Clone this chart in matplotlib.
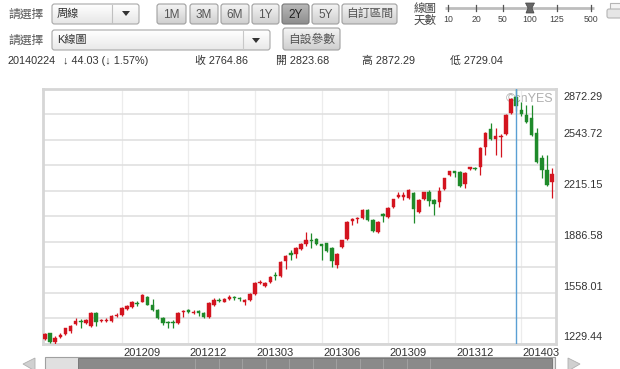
import matplotlib
matplotlib.use('Agg')
import matplotlib.pyplot as plt
from matplotlib.patches import FancyBboxPatch, Polygon, Rectangle
from matplotlib.transforms import blended_transform_factory, ScaledTranslation
import numpy as np
import pandas as pd

plt.rcParams['font.family'] = ['Liberation Sans', 'Noto Sans CJK TC', 'DejaVu Sans']

# ---------------- data ----------------
start_week = '2012-05-21'
opens = [1257, 1296, 1240, 1272, 1289, 1309, 1355, 1375, 1360, 1341,
         1425, 1372, 1376, 1373, 1408, 1412, 1450, 1464, 1492, 1500,
         1530, 1480, 1444, 1395, 1370, 1368, 1362, 1430, 1445, 1428,
         1435, 1425, 1400, 1475, 1512, 1500, 1515, 1530, 1522, 1500,
         1510, 1550, 1620, 1600, 1625, 1672, 1664, 1760, 1810, 1810,
         1840, 1870, 1900, 1905, 1870, 1875, 1845, 1735, 1852, 1903,
         2020, 2030, 2040, 2090, 2026, 1950, 2062, 2045, 2110, 2175,
         2178, 2168, 2200, 2078, 2160, 2207, 2155, 2142, 2226, 2320,
         2340, 2335, 2260, 2360, 2365, 2368, 2498, 2614, 2550, 2560,
         2582, 2718, 2823.68, 2735, 2704, 2685, 2588, 2426, 2349, 2270]
highs = [1296, 1300, 1275, 1300, 1332, 1350, 1393, 1386, 1390, 1432,
         1430, 1390, 1392, 1412, 1425, 1462, 1480, 1502, 1505, 1548,
         1535, 1515, 1450, 1400, 1375, 1380, 1430, 1446, 1450, 1445,
         1445, 1430, 1495, 1525, 1520, 1520, 1545, 1535, 1530, 1518,
         1555, 1625, 1638, 1628, 1665, 1690, 1760, 1800, 1836, 1850,
         1875, 1950, 1940, 1910, 1872, 1880, 1850, 1815, 1900, 2018,
         2040, 2045, 2095, 2095, 2030, 2018, 2075, 2108, 2165, 2210,
         2210, 2228, 2210, 2160, 2210, 2220, 2160, 2240, 2300, 2345,
         2345, 2345, 2335, 2370, 2370, 2495, 2592, 2652, 2620, 2580,
         2710, 2815, 2872.29, 2790, 2770, 2770, 2620, 2446, 2446, 2360]
lows = [1250, 1235, 1229.44, 1262, 1283, 1300, 1350, 1328, 1355, 1335,
        1341, 1365, 1368, 1368, 1400, 1408, 1444, 1458, 1470, 1497,
        1475, 1440, 1388, 1352, 1328, 1328, 1355, 1400, 1425, 1420,
        1410, 1395, 1395, 1470, 1500, 1497, 1510, 1510, 1505, 1480,
        1505, 1545, 1615, 1595, 1618, 1638, 1660, 1710, 1768, 1780,
        1835, 1862, 1845, 1865, 1768, 1820, 1725, 1715, 1845, 1895,
        1995, 2010, 2035, 2020, 1950, 1945, 2015, 2040, 2105, 2170,
        2155, 2160, 2006, 2070, 2155, 2120, 2058, 2110, 2220, 2310,
        2305, 2240, 2230, 2350, 2350, 2317, 2446, 2540, 2446, 2433,
        2575, 2710, 2729.04, 2700, 2650, 2570, 2395, 2297, 2245, 2168]
closes = [1290, 1238, 1268, 1284, 1328, 1340, 1374, 1370, 1380, 1425,
          1367, 1382, 1384, 1406, 1414, 1457, 1470, 1496, 1487, 1540,
          1480, 1444, 1392, 1360, 1360, 1362, 1425, 1438, 1430, 1435,
          1430, 1400, 1490, 1510, 1507, 1515, 1530, 1525, 1516, 1512,
          1550, 1620, 1628, 1620, 1660, 1665, 1755, 1795, 1805, 1845,
          1870, 1897, 1892, 1870, 1862, 1825, 1760, 1810, 1897, 2013,
          2030, 2040, 2090, 2026, 1955, 2013, 2055, 2103, 2160, 2190,
          2190, 2220, 2097, 2155, 2205, 2150, 2130, 2212, 2297, 2340,
          2330, 2245, 2330, 2365, 2358, 2490, 2588, 2550, 2568, 2570,
          2704, 2808.89, 2764.86, 2710, 2660, 2575, 2400, 2349, 2252, 2323]

x_tick_labels = ['201209', '201212', '201303', '201306', '201309', '201312', '201403']
y_tick_labels = ['1229.44', '1558.01', '1886.58', '2215.15', '2543.72', '2872.29']
selected_date = '20140224'

range_buttons = ['1M', '3M', '6M', '1Y', '2Y', '5Y', '自訂區間']
active_button = '2Y'
slider_labels = ['10', '20', '50', '100', '125', '500']
slider_value = '100'

# ---------------- derived ----------------
o = np.array(opens, float); h = np.array(highs, float)
l = np.array(lows, float); c = np.array(closes, float)
n = len(o)
weeks = pd.date_range(start_week, periods=n, freq='7D')
xs = np.arange(n)
ylab_vals = np.array([float(v) for v in y_tick_labels])
ymin, ymax = ylab_vals[0], ylab_vals[-1]
sel = int(np.where(weeks.strftime('%Y%m%d') == selected_date)[0][0])

tick_pos = []
for lab in x_tick_labels:
    y_, m_ = int(lab[:4]), int(lab[4:])
    idx = np.where((weeks.year == y_) & (weeks.month == m_))[0]
    tick_pos.append(int(idx[0]))

RED = '#d3141f'
GREEN = '#1e8a2a'
TXT = '#333333'

W, H = 620, 369
fig = plt.figure(figsize=(W / 100, H / 100), dpi=100)
fig.patch.set_facecolor('white')

# UI layer in pixel coordinates
ui = fig.add_axes([0, 0, 1, 1])
ui.set_xlim(0, W); ui.set_ylim(H, 0); ui.axis('off')


def grad_box(x0, x1, y0, y1, top, bot, ec, r=2.5, lw=0.8):
    p = FancyBboxPatch((x0, y0), x1 - x0, y1 - y0,
                       boxstyle=f'round,pad=0,rounding_size={r}',
                       fc='none', ec=ec, lw=lw, zorder=3)
    ui.add_patch(p)
    g = np.linspace(0, 1, 32).reshape(-1, 1)
    from matplotlib.colors import LinearSegmentedColormap
    cm = LinearSegmentedColormap.from_list('g', [top, bot])
    im = ui.imshow(g, extent=[x0, x1, y1, y0], cmap=cm, aspect='auto',
                   interpolation='bilinear', zorder=2)
    im.set_clip_path(p)
    return p


cjk = dict(family=['Noto Sans CJK TC', 'Liberation Sans'])

# row 1
ui.text(8, 14, '請選擇', fontsize=8.5, color='#555', va='center', ha='left', **cjk)
grad_box(52, 139, 4, 24, '#ffffff', '#e6e6e6', '#a8a8a8')
ui.plot([112, 112], [5, 23], color='#c0c0c0', lw=0.8, zorder=4)
ui.text(57, 14, '周線', fontsize=8, color='#333', va='center', ha='left', zorder=5, **cjk)
ui.add_patch(Polygon([[122, 11], [130, 11], [126, 16]], closed=True, fc='#333', ec='none', zorder=5))

btn_x = [(157, 186), (190, 218), (221, 249), (252, 279), (282, 309), (312, 339), (342, 397)]
for (x0, x1), lab in zip(btn_x, range_buttons):
    if lab == active_button:
        grad_box(x0, x1, 4, 24, '#b8b8b8', '#8e8e8e', '#777777')
        col = '#222'
    else:
        grad_box(x0, x1, 4, 24, '#f4f4f4', '#cfcfcf', '#a0a0a0')
        col = '#555'
    ui.text((x0 + x1) / 2, 14.5, lab, fontsize=8.5, color=col, va='center', ha='center', zorder=5,
            family=['Liberation Sans', 'Noto Sans CJK TC'])

ui.text(425, 8.5, '線圖', fontsize=8.3, color='#444', va='center', ha='center', **cjk)
ui.text(425, 20.5, '天數', fontsize=8.3, color='#444', va='center', ha='center', **cjk)
slider_x = [448, 476, 503, 530, 557, 591]
ui.plot([445, 594], [8, 8], color='#bdbdbd', lw=2, solid_capstyle='butt', zorder=2)
for sx, sl in zip(slider_x, slider_labels):
    ui.plot([sx, sx], [5, 11], color='#555', lw=0.9, zorder=3)
    ui.text(sx, 20, sl, fontsize=6.3, color='#444', va='center', ha='center')
    if sl == slider_value:
        ui.add_patch(Polygon([[sx - 4.5, 3], [sx + 4.5, 3], [sx + 2, 8], [sx + 4, 13], [sx - 4, 13], [sx - 2, 8]],
                             closed=True, fc='#666', ec='#444', lw=0.5, zorder=4))
# printer icon (partially visible)
ui.add_patch(FancyBboxPatch((607, 9), 16, 9, boxstyle='round,pad=0,rounding_size=2',
                            fc='#e6e6e6', ec='#b5b5b5', lw=0.8, zorder=3))
ui.add_patch(Rectangle((610, 3), 12, 7, fc='#f4f4f4', ec='#b5b5b5', lw=0.8, zorder=2))

# row 2
ui.text(8, 40, '請選擇', fontsize=8.5, color='#555', va='center', ha='left', **cjk)
grad_box(52, 270, 30, 50, '#ffffff', '#e9e9e9', '#a8a8a8')
ui.plot([243, 243], [31, 49], color='#c8c8c8', lw=0.8, zorder=4)
ui.text(57, 40, 'K線圖', fontsize=8, color='#333', va='center', ha='left', zorder=5,
        family=['Liberation Sans', 'Noto Sans CJK TC'])
ui.add_patch(Polygon([[252, 38], [260, 38], [256, 43]], closed=True, fc='#333', ec='none', zorder=5))
grad_box(283, 340, 28, 50, '#f4f4f4', '#cfcfcf', '#a0a0a0')
ui.text(311.5, 39, '自設參數', fontsize=8.5, color='#555', va='center', ha='center', zorder=5, **cjk)

# row 3 : info of the selected week
chg = c[sel] - c[sel - 1]
pct = abs(chg) / c[sel - 1] * 100
arrow = '↓' if chg < 0 else '↑'
info_font = dict(fontsize=7.8, color=TXT, va='center', ha='left', family=['Liberation Sans', 'Noto Sans CJK TC'])
ui.text(8, 61, selected_date, **info_font)
ui.text(63, 61, f'{arrow} {abs(chg):.2f} ({arrow} {pct:.2f}%)', **info_font)
ui.text(195, 61, f'收 {c[sel]:.2f}', **info_font)
ui.text(276, 61, f'開 {o[sel]:.2f}', **info_font)
ui.text(362, 61, f'高 {h[sel]:.2f}', **info_font)
ui.text(450, 61, f'低 {l[sel]:.2f}', **info_font)

# bottom scroll bar
ui.add_patch(Polygon([[23, 364], [35, 358], [35, 371]], closed=True, fc='#d0d0d0', ec='#b0b0b0', lw=0.6))
ui.add_patch(Polygon([[580, 364], [568, 358], [568, 371]], closed=True, fc='#d0d0d0', ec='#b0b0b0', lw=0.6))
ui.add_patch(Rectangle((45, 357), 510, 14, fc='#e0e0e0', ec='#a0a0a0', lw=0.8, zorder=2))
ui.add_patch(Rectangle((78, 358), 474, 13, fc='#8a8a8a', ec='#6f6f6f', lw=0.6, zorder=3))
for gx in np.arange(195, 440, 23.5):
    ui.plot([gx, gx], [359, 369], color='#a5a5a5', lw=0.6, zorder=4)

# ---------------- chart ----------------
L_, R_, T_, B_ = 43, 556, 89, 343.5
ax = fig.add_axes([L_ / W, (H - B_) / H, (R_ - L_) / W, (B_ - T_) / H])
ax.set_facecolor('white')
ax.set_xlim(-0.39, 99.78)
ax.set_ylim(ymin, ymax)

step = (ymax - ymin) / 10
ax.set_yticks(ymin + step * np.arange(11))
ax.yaxis.set_tick_params(length=0, labelleft=False, labelright=False)
ax.set_xticks(tick_pos, x_tick_labels)
ax.tick_params(axis='x', length=0, pad=3, labelsize=8, labelcolor=TXT)
for lbl in ax.get_xticklabels():
    lbl.set_ha('left')
    lbl.set_transform(lbl.get_transform() + ScaledTranslation(1.5 / 100, 0, fig.dpi_scale_trans))
ax.grid(axis='y', color='#dedede', lw=1.1)
ax.grid(axis='x', color='#ececec', lw=0.9)
for s in ax.spines.values():
    s.set_color('#d6d6d6'); s.set_linewidth(2)

trans = blended_transform_factory(ax.transAxes, ax.transData)
for v, lab in zip(ylab_vals, y_tick_labels):
    if v == ymax:
        off, va = -8, 'center'
    else:
        off, va = 6, 'center'
    ax.text(1 + 7 / (R_ - L_), v, lab, transform=trans + ScaledTranslation(0, off / 100, fig.dpi_scale_trans),
            fontsize=7.8, color=TXT, ha='left', va=va, clip_on=False)

ax.text(0.994, 0.985, '©cnYES', transform=ax.transAxes, ha='right', va='top',
        fontsize=9, color='#9a9a9a', alpha=0.8, zorder=1)

up = c >= o
cols = np.where(up, RED, GREEN)
px = (ymax - ymin) / (B_ - T_)
bh = np.maximum(np.abs(c - o), 1.2 * px)
mid = (c + o) / 2
ax.vlines(xs, l, h, colors=cols, lw=0.9, zorder=3)
ax.bar(xs, bh, bottom=mid - bh / 2, width=0.68, color=cols, edgecolor=cols, lw=0.3, zorder=4)

ax.axvline(sel, color='#5a9fd4', lw=1, zorder=5)

fig.savefig('out.png', dpi=100, facecolor='white')
